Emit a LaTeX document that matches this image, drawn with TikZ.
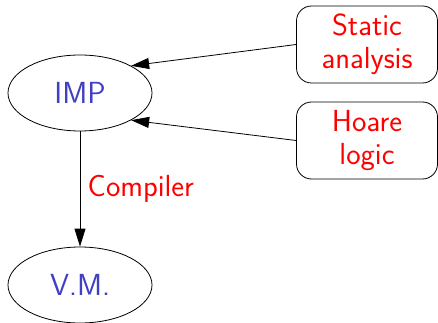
\documentclass[tikz,border=0pt]{standalone}
\usepackage{fontspec}
\usepackage{xcolor}
\usepackage{tikz}
\usetikzlibrary{arrows.meta,shapes.geometric}
\definecolor{langblue}{HTML}{4040C0}
\definecolor{toolred}{HTML}{FF0000}

\begin{document}
\begin{tikzpicture}[
  x=1pt,
  y=-1pt,
  font=\sffamily\fontsize{30.5}{33}\selectfont,
  lang/.style={ellipse, draw, line width=0.8pt, text=langblue,
    minimum width=144pt, minimum height=76pt, inner sep=0pt},
  tool/.style={rectangle, rounded corners=15pt, draw, line width=0.8pt,
    text=toolred, align=center, minimum width=141pt, minimum height=77pt,
    inner sep=0pt},
  link/.style={-{Triangle[length=18pt, width=11pt]}, line width=0.8pt}
]
  \useasboundingbox (0,0) rectangle (438,323);

  \node[lang] (imp) at (80,93) {IMP};
  \node[lang] (vm) at (80,285) {V.M.};
  \node[tool] (static) at (367,44.5) {Static\\analysis};
  \node[tool] (hoare) at (367,140.5) {Hoare\\logic};

  \draw[link] (static.west) -- (imp.28);
  \draw[link] (hoare.west) -- (imp.-28);
  \draw[link] (imp) -- (vm)
    node[midway, right, xshift=4pt, text=toolred] {Compiler};
\end{tikzpicture}
\end{document}
